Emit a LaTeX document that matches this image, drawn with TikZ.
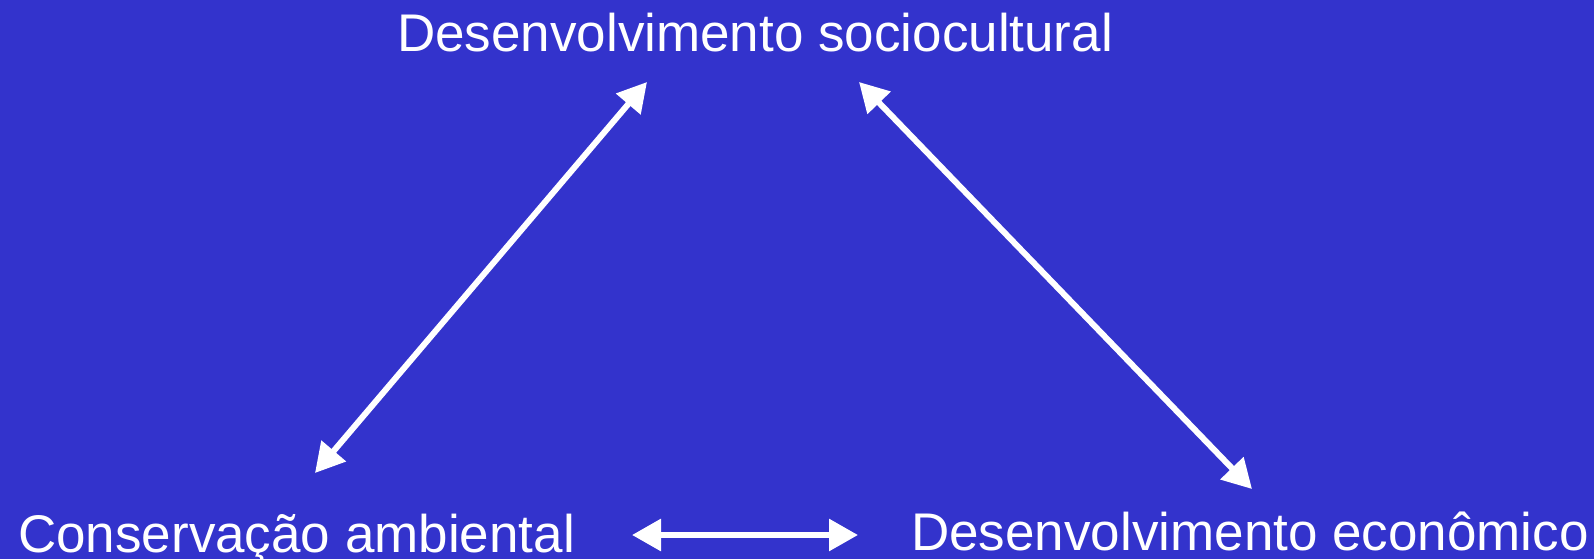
\documentclass[tikz,border=0pt]{standalone}
\usepackage{fontspec}
\setmainfont{Liberation Sans}
\usetikzlibrary{arrows.meta,positioning}
\definecolor{fundo}{RGB}{51,51,204}
\begin{document}
\begin{tikzpicture}[x=1pt,y=-1pt,
  rotulo/.style={text=white,inner sep=0pt,anchor=base west,font=\fontsize{53}{60}\selectfont},
  seta/.style={draw=white,line width=6pt,{Triangle[length=29pt,width=31pt]}-{Triangle[length=29pt,width=31pt]}}]
%Fundo und Rahmen
\fill[fundo] (0,0) rectangle (1594,559);
\useasboundingbox (0,0) rectangle (1594,559);
%Texte
\node[rotulo] (socio) at (397,52) {Desenvolvimento sociocultural};
\node[rotulo] (ambiental) at (18,552) {Conservação ambiental};
\node[rotulo] (economico) at (911,550) {Desenvolvimento econômico};
%Pfeilspitzen
\coordinate (socioL) at (647,82);
\coordinate (socioR) at (859,82);
\coordinate (ambientalO) at (315,473);
\coordinate (economicoO) at (1252,489);
\coordinate (ambientalR) at (632,535);
\coordinate (economicoL) at (858,535);
\draw[seta] (ambientalO) -- (socioL);
\draw[seta] (socioR) -- (economicoO);
\draw[seta] (ambientalR) -- (economicoL);
\end{tikzpicture}
\end{document}
